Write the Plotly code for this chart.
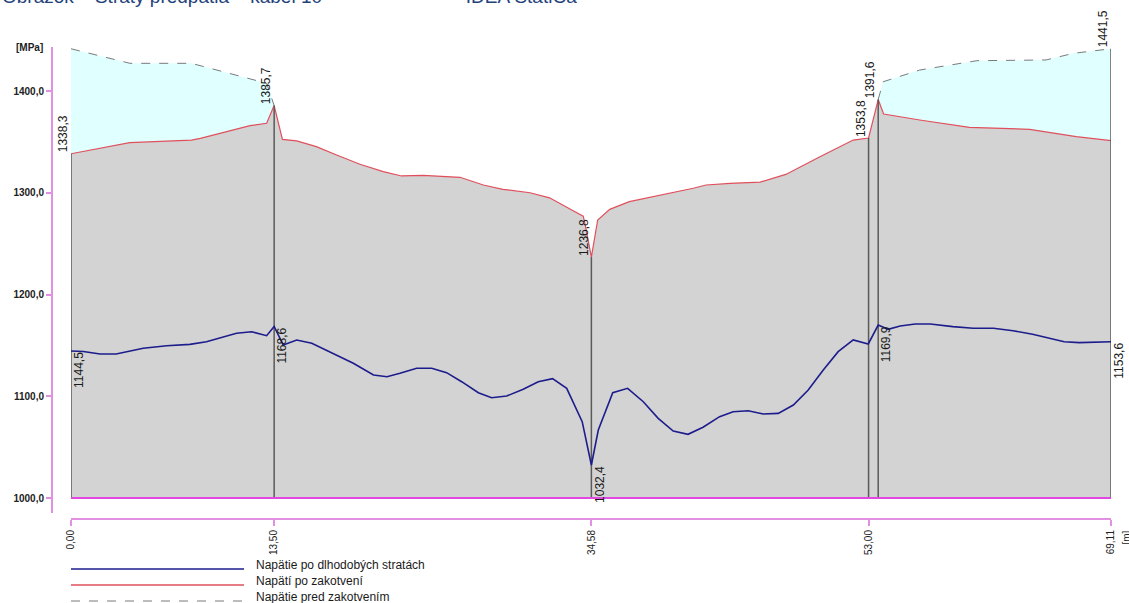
import plotly.graph_objects as go

# ---- stress along cable 10 [m, MPa] ----
# stress after anchoring (red line, grey area below it)
x_after = [0.0, 3.9, 8.0, 8.6, 11.9, 13.0, 13.5, 14.05, 15.0, 16.3, 17.65, 19.2, 20.75,
           21.97, 23.4, 25.85, 27.4, 28.7, 30.5, 31.8, 33.4, 34.04, 34.15, 34.58, 35.0,
           35.8, 37.1, 39.8, 41.35, 42.2, 43.8, 45.8, 47.5, 49.77, 51.98, 53.0, 53.64,
           54.0, 56.4, 59.7, 63.7, 66.8, 69.11]
y_after = [1338.3, 1349.2, 1351.8, 1353.5, 1365.9, 1368.3, 1385.7, 1352.5, 1350.9, 1345.3,
           1337.1, 1328.0, 1320.7, 1316.5, 1317.1, 1315.2, 1307.6, 1303.4, 1300.0, 1295.0,
           1282.0, 1277.0, 1270.0, 1236.8, 1273.2, 1283.7, 1291.2, 1299.4, 1304.4, 1307.6,
           1309.3, 1310.5, 1318.0, 1335.4, 1351.8, 1353.8, 1391.6, 1377.4, 1371.5, 1364.3,
           1362.3, 1355.1, 1351.2]

# stress before anchoring (dashed, only near the two stressing ends)
x_before_left = [0.0, 3.92, 8.0, 13.0, 13.5]
y_before_left = [1441.5, 1427.2, 1427.2, 1407.6, 1385.7]
x_before_right = [53.64, 53.97, 56.4, 60.2, 64.8, 66.6, 69.11]
y_before_right = [1391.6, 1409.1, 1420.6, 1429.8, 1430.5, 1437.0, 1441.5]

# stress after long-term losses (blue line)
x_long = [0.0, 0.82, 1.93, 3.0, 4.8, 6.36, 7.9, 9.0, 11.0, 12.0, 13.0, 13.5, 14.1, 15.0,
          16.0, 17.4, 18.76, 20.1, 21.0, 21.86, 22.97, 23.97, 24.96, 25.96, 27.07, 27.95,
          28.95, 30.05, 31.05, 32.0, 32.94, 33.97, 34.58, 35.04, 36.0, 36.99, 38.03, 39.02,
          40.02, 41.0, 42.0, 43.1, 44.0, 45.0, 46.0, 47.0, 48.0, 48.99, 49.99, 50.98,
          51.98, 52.98, 53.64, 54.3, 55.1, 56.1, 57.1, 58.6, 59.95, 61.3, 62.6, 63.9,
          65.0, 66.0, 67.0, 69.11]
y_long = [1144.5, 1144.0, 1141.5, 1141.5, 1147.1, 1149.7, 1151.0, 1153.6, 1161.9, 1163.4,
          1159.5, 1168.6, 1150.4, 1155.3, 1152.0, 1142.2, 1132.4, 1120.9, 1119.2, 1122.6,
          1127.5, 1127.5, 1123.2, 1114.3, 1103.5, 1098.6, 1100.2, 1106.8, 1114.3, 1117.3,
          1107.8, 1075.0, 1032.4, 1066.8, 1103.5, 1107.8, 1094.6, 1078.3, 1065.8, 1062.6,
          1069.5, 1079.9, 1084.8, 1085.8, 1082.6, 1083.2, 1091.4, 1106.1, 1125.8, 1143.8,
          1155.3, 1151.4, 1169.9, 1165.8, 1169.0, 1171.0, 1171.0, 1168.4, 1166.8, 1166.8,
          1164.4, 1160.9, 1156.9, 1153.6, 1152.7, 1153.6]

# characteristic sections: vertical marker lines with their values
sect_x = [0.0, 13.5, 34.58, 53.0, 53.64, 69.11]
sect_top = [1338.3, 1385.7, 1236.8, 1353.8, 1391.6, 1441.5]
long_lbl_x = [0.0, 13.5, 34.58, 53.64, 69.11]
long_lbl_y = [1144.5, 1168.6, 1032.4, 1169.9, 1153.6]

x_ticks = [0.0, 13.5, 34.58, 53.0, 69.11]
x_ticktext = ["0,00", "13,50", "34,58", "53,00", "69,11"]
y_ticks = [1000, 1100, 1200, 1300, 1400]
y_ticktext = ["1000,0", "1100,0", "1200,0", "1300,0", "1400,0"]
BASE = 1000.0

legend_names = ["Napätie po dlhodobých stratách", "Napätí po zakotvení",
                "Napätie pred zakotvením"]

# ---- page geometry ----
W, H = 1129, 603
ML, MR, MT, MB = 52, 18, 47, 84
PW, PH = W - ML - MR, H - MT - MB


def fx(px):
    return (px - ML) / PW


def fy(py):
    return (H - MB - py) / PH


FONT = "Liberation Sans, Arial, sans-serif"
AXIS_PINK = "#e291e2"
BASE_PINK = "#e048e0"
GREY_FILL = "#d3d3d3"
CYAN_FILL = "#e0ffff"
RED = "#e0505c"
BLUE = "#1c1c8c"
DASH = "#7a7a7a"
SECT = "#5a5a5a"


def cyan_band(xb, yb):
    lo, hi = min(xb), max(xb)
    seg = [(x, y) for x, y in zip(x_after, y_after) if lo <= x <= hi]
    xs = list(xb) + [p[0] for p in reversed(seg)]
    ys = list(yb) + [p[1] for p in reversed(seg)]
    return xs, ys


fig = go.Figure()

# light cyan band between stress before and after anchoring
for xb, yb in ((x_before_left, y_before_left), (x_before_right, y_before_right)):
    cx, cy = cyan_band(xb, yb)
    fig.add_trace(go.Scatter(x=cx, y=cy, mode="lines", fill="toself",
                             fillcolor=CYAN_FILL, line=dict(width=0),
                             hoverinfo="skip", showlegend=False))

# grey area under the stress after anchoring
fig.add_trace(go.Scatter(x=[x_after[0]] + x_after + [x_after[-1]],
                         y=[BASE] + y_after + [BASE],
                         mode="lines", fill="toself", fillcolor=GREY_FILL,
                         line=dict(width=0), hoverinfo="skip", showlegend=False))

# red line: after anchoring
fig.add_trace(go.Scatter(x=x_after, y=y_after, mode="lines",
                         line=dict(color=RED, width=1.2), showlegend=False))

# dashed: before anchoring
for xb, yb in ((x_before_left, y_before_left), (x_before_right, y_before_right)):
    fig.add_trace(go.Scatter(x=xb, y=yb, mode="lines",
                             line=dict(color=DASH, width=1, dash="dash"),
                             showlegend=False))

# vertical section lines
vx, vy = [], []
for x, t in zip(sect_x, sect_top):
    vx += [x, x, None]
    vy += [BASE, t, None]
fig.add_trace(go.Scatter(x=vx, y=vy, mode="lines",
                         line=dict(color=SECT, width=1.5), showlegend=False))

# blue line: after long-term losses
fig.add_trace(go.Scatter(x=x_long, y=y_long, mode="lines",
                         line=dict(color=BLUE, width=1.6), showlegend=False))

# base line at 1000 MPa
fig.add_trace(go.Scatter(x=[x_after[0], x_after[-1]], y=[BASE, BASE], mode="lines",
                         line=dict(color=BASE_PINK, width=2), showlegend=False))

ann = []
lbl_font = dict(family=FONT, size=12, color="#1a1a1a")


def fmt(v):
    return f"{v:.1f}".replace(".", ",")


for x, t in zip(sect_x, sect_top):
    ann.append(dict(x=x, y=t, xref="x", yref="y", text=fmt(t), textangle=-90,
                    showarrow=False, xanchor="right", yanchor="bottom",
                    borderpad=0, font=lbl_font))
for x, v in zip(long_lbl_x, long_lbl_y):
    ann.append(dict(x=x, y=v, xref="x", yref="y", text=fmt(v), textangle=-90,
                    showarrow=False, xanchor="left", yanchor="top",
                    borderpad=0, font=lbl_font))

# axis unit labels
ann.append(dict(x=fx(29), y=fy(47), xref="paper", yref="paper", text="[MPa]",
                showarrow=False, xanchor="center", yanchor="middle",
                font=dict(family=FONT, size=10, color="#222222", weight="bold")))
ann.append(dict(x=fx(1118), y=fy(538), xref="paper", yref="paper", text="[m]",
                showarrow=False, xanchor="left", yanchor="middle", textangle=-90,
                font=dict(family=FONT, size=10, color="#222222")))

# caption line at the very top
cap_font = dict(family=FONT, size=19, color="#23427a")
ann.append(dict(x=fx(0), y=fy(9), xref="paper", yref="paper",
                text="Obrázok – Straty predpätia – kábel 10",
                showarrow=False, xanchor="left", yanchor="bottom", font=cap_font))
ann.append(dict(x=fx(448), y=fy(9), xref="paper", yref="paper",
                text="– IDEA StatiCa",
                showarrow=False, xanchor="left", yanchor="bottom", font=cap_font))

# legend drawn below the axis
shapes = []
leg_styles = [dict(color=BLUE, width=1.6), dict(color=RED, width=1.4),
              dict(color=DASH, width=1, dash="dash")]
leg_line_y = [569, 585, 601]
for name, style, ly in zip(legend_names, leg_styles, leg_line_y):
    shapes.append(dict(type="line", xref="paper", yref="paper",
                       x0=fx(71), x1=fx(244), y0=fy(ly), y1=fy(ly), line=style))
    ann.append(dict(x=fx(254), y=fy(ly - 4), xref="paper", yref="paper", text=name,
                    showarrow=False, xanchor="left", yanchor="middle",
                    font=dict(family=FONT, size=12, color="#1a1a1a")))

fig.update_layout(
    width=W, height=H,
    margin=dict(l=ML, r=MR, t=MT, b=MB, pad=0),
    paper_bgcolor="white", plot_bgcolor="white",
    showlegend=False,
    annotations=ann, shapes=shapes,
    xaxis=dict(domain=[fx(71), fx(1111)], range=[0, 69.11], anchor="free", position=0,
               showgrid=False, zeroline=False, showline=True, linecolor=AXIS_PINK,
               linewidth=2, ticks="outside", ticklen=6, tickwidth=1.5,
               tickcolor=AXIS_PINK, tickvals=x_ticks, ticktext=x_ticktext,
               tickangle=-90, tickfont=dict(family=FONT, size=10, color="#222222")),
    yaxis=dict(domain=[fy(513), 1], range=[985.26, 1443.24], anchor="free", position=0,
               showgrid=False, zeroline=False, showline=True, linecolor=AXIS_PINK,
               linewidth=2, ticks="outside", ticklen=5, tickwidth=1.5,
               tickcolor=AXIS_PINK, tickvals=y_ticks, ticktext=y_ticktext,
               tickfont=dict(family=FONT, size=10, color="#222222", weight="bold")),
)

fig.write_html("out.html")
